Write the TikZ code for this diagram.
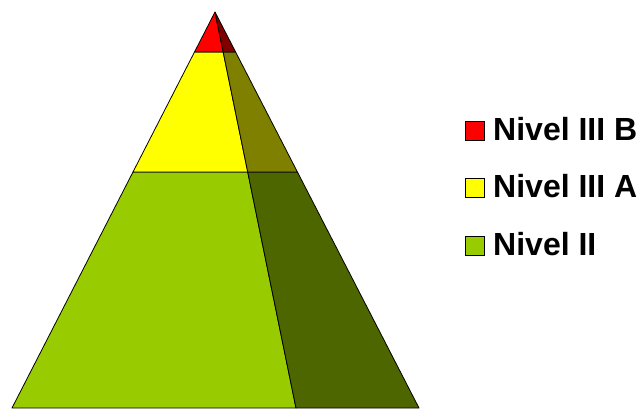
\documentclass[tikz,border=0pt]{standalone}
\usepackage{fontspec}
\setmainfont{Liberation Sans}
\usetikzlibrary{calc}
\definecolor{cRed}{HTML}{FF0000}
\definecolor{cRedD}{HTML}{800000}
\definecolor{cYel}{HTML}{FFFF00}
\definecolor{cYelD}{HTML}{808000}
\definecolor{cGrn}{HTML}{99CC00}
\definecolor{cGrnD}{HTML}{4D6600}
\tikzset{
  face/.style={draw=black, line width=0.8pt, line join=round},
  legbox/.style={draw=black, line width=0.8pt, minimum size=19pt, inner sep=0pt},
  legtext/.style={anchor=base west, inner sep=0pt, font=\fontsize{32}{34}\selectfont\bfseries}
}
\begin{document}
\begin{tikzpicture}[x=1pt,y=-1pt]
\useasboundingbox (0,0) rectangle (644,410);
\coordinate (A) at (215,12);
\coordinate (BL) at (12,408);
\coordinate (BD) at (296,408);
\coordinate (BR) at (419,408);
% level points
\coordinate (L1) at ($(A)!0.101!(BL)$);
\coordinate (D1) at ($(A)!0.101!(BD)$);
\coordinate (R1) at ($(A)!0.101!(BR)$);
\coordinate (L2) at ($(A)!0.404!(BL)$);
\coordinate (D2) at ($(A)!0.404!(BD)$);
\coordinate (R2) at ($(A)!0.404!(BR)$);
% front faces
\filldraw[face, fill=cGrn] (L2) -- (D2) -- (BD) -- (BL) -- cycle;
\filldraw[face, fill=cYel] (L1) -- (D1) -- (D2) -- (L2) -- cycle;
\filldraw[face, fill=cRed] (A) -- (D1) -- (L1) -- cycle;
% side faces
\filldraw[face, fill=cGrnD] (D2) -- (R2) -- (BR) -- (BD) -- cycle;
\filldraw[face, fill=cYelD] (D1) -- (R1) -- (R2) -- (D2) -- cycle;
\filldraw[face, fill=cRedD] (A) -- (R1) -- (D1) -- cycle;
% legend
\node[legbox, fill=cRed] (k1) at (474.5,130.5) {};
\node[legtext] (t1) at (493,140) {Nivel III B};
\node[legbox, fill=cYel] (k2) at (474.5,188) {};
\node[legtext] (t2) at (493,197.5) {Nivel III A};
\node[legbox, fill=cGrn] (k3) at (474.5,246) {};
\node[legtext] (t3) at (493,255.5) {Nivel II};
\end{tikzpicture}
\end{document}
